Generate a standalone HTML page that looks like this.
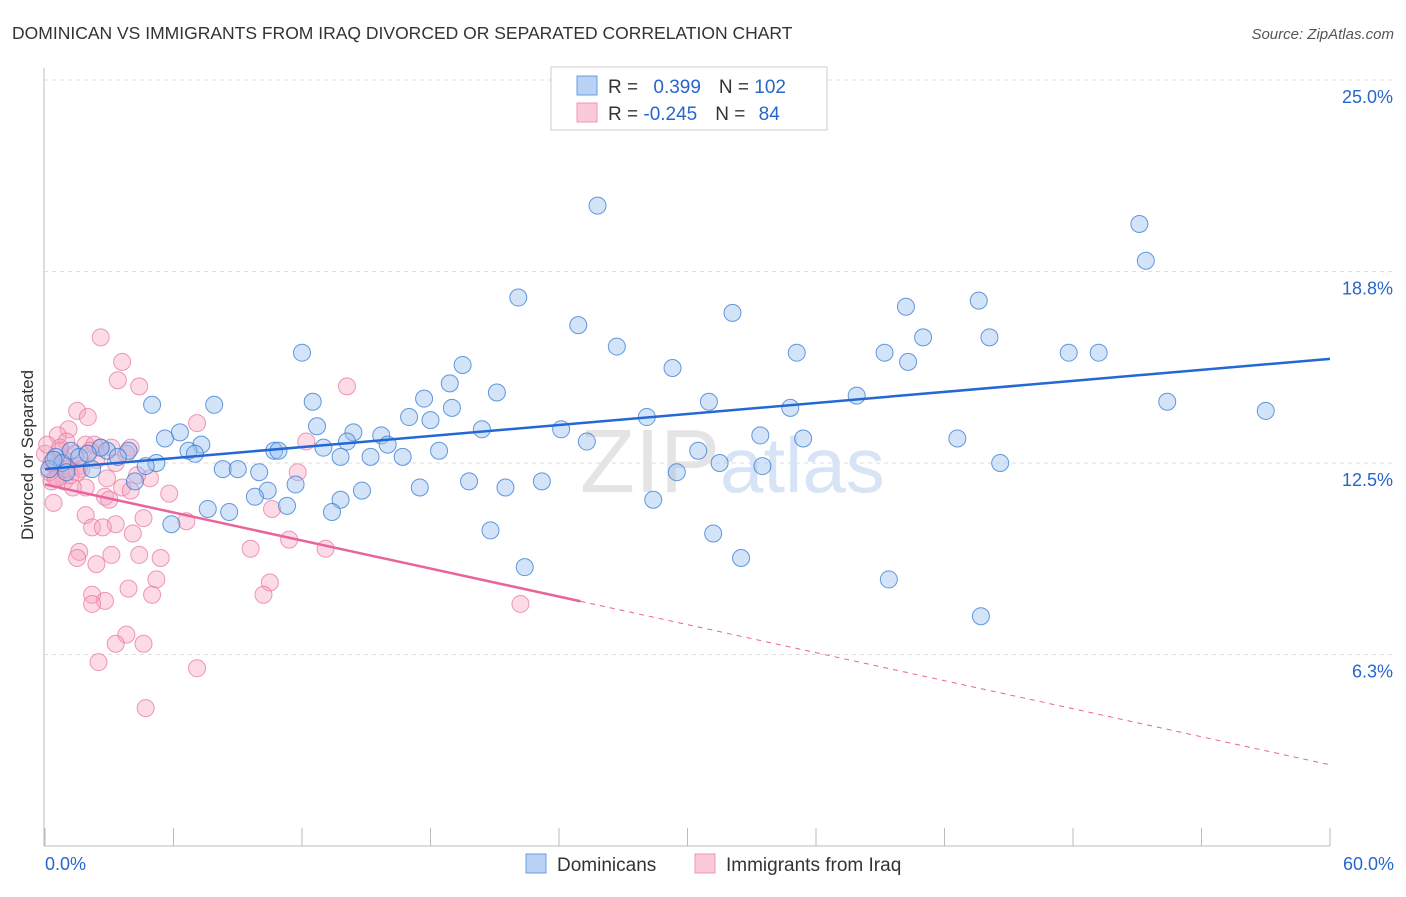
<!DOCTYPE html>
<html><head><meta charset="utf-8"><style>
body{margin:0;background:#fff;font-family:"Liberation Sans",sans-serif}
svg text{font-family:"Liberation Sans",sans-serif}
</style></head><body>
<svg id="c" width="1406" height="892">
<text x="12" y="39" font-size="17.5" fill="#333">DOMINICAN VS IMMIGRANTS FROM IRAQ DIVORCED OR SEPARATED CORRELATION CHART</text>
<text x="1394" y="39" font-size="15" fill="#555" font-style="italic" text-anchor="end">Source: ZipAtlas.com</text>
<text x="0" y="0" transform="translate(33,455) rotate(-90)" font-size="17" fill="#333" text-anchor="middle">Divorced or Separated</text>
<g id="grid"></g>
<text x="720" y="492" font-size="90" fill="#e4e4e4" text-anchor="end" font-family="Liberation Serif">ZIP</text>
<text x="720" y="492" font-size="78" fill="#d6e4f5">atlas</text>
<g id="pts"></g>
<g id="lines"></g>
<g>
<rect x="551" y="67" width="276" height="63" fill="#fff" stroke="#ccc"/>
<rect x="577" y="76" width="20" height="19" fill="#b8d3f5" stroke="#6a9ee0"/>
<rect x="577" y="103" width="20" height="19" fill="#fbc9d8" stroke="#ee98b4"/>
<text x="608" y="93" font-size="19" fill="#333">R = <tspan fill="#2766cc" dx="10">0.399</tspan><tspan dx="18" fill="#333">N = </tspan><tspan fill="#2766cc">102</tspan></text>
<text x="608" y="120" font-size="19" fill="#333">R = <tspan fill="#2766cc">-0.245</tspan><tspan dx="18" fill="#333">N = </tspan><tspan fill="#2766cc" dx="8">84</tspan></text>
</g>
<g>
<rect x="526" y="854" width="20" height="19" fill="#b8d3f5" stroke="#6a9ee0"/>
<text x="557" y="871" font-size="19" fill="#333">Dominicans</text>
<rect x="695" y="854" width="20" height="19" fill="#fbc9d8" stroke="#ee98b4"/>
<text x="726" y="871" font-size="19" fill="#333">Immigrants from Iraq</text>
</g>
</svg>
<script>
const xTicks=[0,6,12,18,24,30,36,42,48,54,60];
const yTicks=[6.25,12.5,18.75,25];
const yTickLabels=["6.3%","12.5%","18.8%","25.0%"];
const xEndLabels=["0.0%","60.0%"];
const blueX=[25.8,51.1,51.4,22.1,32.1,24.9,40.2,43.6,41.0,44.1,26.7,12.0,35.1,39.2,40.3,47.8,49.2,19.5,29.3,18.9,21.1,37.9,12.5,17.7,31.0,52.4,57.0,5.0,7.9,19.0,34.8,17.0,18.0,28.1,12.7,6.3,14.4,20.4,24.1,15.7,5.6,14.1,33.4,35.4,42.6,25.3,7.3,16.0,6.7,7.0,10.7,10.9,13.0,18.4,30.5,15.2,13.8,16.7,3.9,2.9,5.2,31.5,44.6,4.7,8.3,9.0,10.0,33.5,2.2,29.5,19.8,17.5,21.5,23.2,11.7,4.2,10.4,14.8,9.8,13.8,11.3,7.6,8.6,28.4,13.4,5.9,20.8,31.2,32.5,22.4,39.4,43.7,0.5,0.8,1.2,1.6,0.2,2.6,3.4,1.0,0.4,2.0];
const blueY=[20.9,20.3,19.1,17.9,17.4,17.0,17.6,17.8,16.6,16.6,16.3,16.1,16.1,16.1,15.8,16.1,16.1,15.7,15.6,15.1,14.8,14.7,14.5,14.6,14.5,14.5,14.2,14.4,14.4,14.3,14.3,14.0,13.9,14.0,13.7,13.5,13.5,13.6,13.6,13.4,13.3,13.2,13.4,13.3,13.3,13.2,13.1,13.1,12.9,12.8,12.9,12.9,13.0,12.9,12.9,12.7,12.7,12.7,12.9,12.9,12.5,12.5,12.5,12.4,12.3,12.3,12.2,12.4,12.3,12.2,11.9,11.7,11.7,11.9,11.8,11.9,11.6,11.6,11.4,11.3,11.1,11.0,10.9,11.3,10.9,10.5,10.3,10.2,9.4,9.1,8.7,7.5,12.7,12.5,12.9,12.7,12.3,13.0,12.7,12.2,12.6,12.8];
const pinkX=[2.6,3.6,3.4,4.4,14.1,1.5,2.0,7.1,1.1,0.6,1.0,12.2,1.9,2.6,0.7,0.0,3.1,1.4,2.4,0.5,1.6,3.3,4.9,11.8,0.9,1.9,3.6,4.0,5.8,0.4,2.8,3.0,10.6,1.9,4.6,6.6,2.2,3.3,2.7,4.1,11.4,9.6,13.1,1.6,1.5,3.1,4.4,5.4,2.4,5.2,10.5,3.9,2.2,5.0,10.2,2.8,2.2,22.2,3.8,3.3,4.6,2.5,7.1,4.7,0.3,1.3,0.8,0.1,4.0,0.6,2.3,2.9,0.2,1.2,0.9,1.7,0.5,3.8,1.0,0.3,2.1,0.7,1.5,4.3];
const pinkY=[16.6,15.8,15.2,15.0,15.0,14.2,14.0,13.8,13.6,13.4,13.2,13.2,13.1,13.0,12.9,12.8,13.0,12.8,12.6,12.4,12.4,12.5,12.0,12.2,11.9,11.7,11.7,11.6,11.5,11.2,11.4,11.3,11.0,10.8,10.7,10.6,10.4,10.5,10.4,10.2,10.0,9.7,9.7,9.6,9.4,9.5,9.5,9.4,9.2,8.7,8.6,8.4,8.2,8.2,8.2,8.0,7.9,7.9,6.9,6.6,6.6,6.0,5.8,4.5,11.9,11.7,12.5,13.1,13.0,12.0,13.1,12.0,12.2,12.1,12.6,12.3,12.0,12.8,12.3,12.5,12.9,13.0,12.2,12.1];
const blueLine=[12.3,15.9];
const pinkLine=[11.8,2.65];
const pinkSolidEnd=25;
const X=v=>45+v*(1285/60), Y=v=>846-v*30.64;
const NS="http://www.w3.org/2000/svg";
function mk(t,a,p){const e=document.createElementNS(NS,t);for(const k in a)e.setAttribute(k,a[k]);p.appendChild(e);return e;}
const grid=document.getElementById('grid');
const ax=mk('line',{x1:44,y1:68,x2:44,y2:846,stroke:'#bbb'},grid);


const bx=mk('line',{x1:44,y1:846,x2:1330,y2:846,stroke:'#bbb'},grid);


yTicks.forEach((t,i)=>{
 const g=mk('line',{x1:44,y1:Y(t),x2:1394,y2:Y(t),stroke:'#ddd','stroke-dasharray':'4,4'},grid);
 
 
 const l=mk('text',{x:1393,y:Y(t)+23,'font-size':18,fill:'#2766cc','text-anchor':'end'},grid);
 l.textContent=yTickLabels[i];
 
 
});
xTicks.forEach(t=>{
 const k=mk('line',{x1:X(t),y1:828,x2:X(t),y2:846,stroke:'#bbb'},grid);
 
 
});
const l0=mk('text',{x:45,y:870,'font-size':18,fill:'#2766cc'},grid);l0.textContent=xEndLabels[0];


const l1=mk('text',{x:1394,y:870,'font-size':18,fill:'#2766cc','text-anchor':'end'},grid);l1.textContent=xEndLabels[1];


const pts=document.getElementById('pts');
pinkX.forEach((x,i)=>{const c=mk('circle',{cx:X(x),cy:Y(pinkY[i]),r:8.5,fill:'rgba(246,160,190,0.38)',stroke:'rgba(232,120,160,0.75)','stroke-width':1},pts);
 
 });
blueX.forEach((x,i)=>{const c=mk('circle',{cx:X(x),cy:Y(blueY[i]),r:8.5,fill:'rgba(150,190,240,0.42)',stroke:'rgba(50,120,210,0.75)','stroke-width':1},pts);
 
 });
const L=document.getElementById('lines');
const bl=mk('line',{x1:X(0),y1:Y(blueLine[0]),x2:X(60),y2:Y(blueLine[1]),stroke:'#2368d4','stroke-width':2.5},L);


const pv=x=>pinkLine[0]+(pinkLine[1]-pinkLine[0])*x/60;
const pl=mk('line',{x1:X(0),y1:Y(pv(0)),x2:X(pinkSolidEnd),y2:Y(pv(pinkSolidEnd)),stroke:'#e8649a','stroke-width':2.5},L);


const pd=mk('line',{x1:X(pinkSolidEnd),y1:Y(pv(pinkSolidEnd)),x2:X(60),y2:Y(pv(60)),stroke:'#e8649a','stroke-width':1,'stroke-dasharray':'5,5'},L);


</script>
</body></html>
